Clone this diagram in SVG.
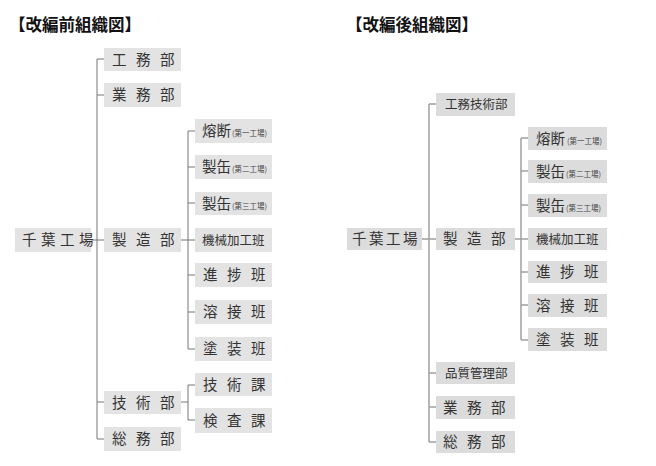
<svg xmlns="http://www.w3.org/2000/svg" width="656" height="466" viewBox="0 0 656 466">
<style>
.bg{fill:#ffffff}
.title{font-family:"Noto Sans CJK JP","Noto Sans",sans-serif;font-size:16.5px;font-weight:bold;fill:#111}
.bl{fill:#e3e3e3}
.br{fill:#dcdcdc}
.t{font-family:"Noto Sans CJK JP","Noto Sans",sans-serif;font-size:14.5px;fill:#333}
.s3{letter-spacing:9.5px}
.s4{letter-spacing:4.5px}
.r4{letter-spacing:2.5px}
.t5{font-family:"Noto Sans CJK JP","Noto Sans",sans-serif;font-size:12.5px;fill:#333}
.sm{font-family:"Noto Sans CJK JP","Noto Sans",sans-serif;font-size:7.5px;fill:#444}
.ll{stroke:#777;stroke-width:1;fill:none}
.lr{stroke:#a0a0a0;stroke-width:1.5;fill:none}
</style>
<rect class="bg" width="656" height="466"/>
<text class="title" x="9" y="31">【改編前組織図】</text>
<text class="title" x="346" y="31">【改編後組織図】</text>

<g id="connectors">
  <path class="ll" d="M91 240H97M97 59V439M97 59H104M97 95H104M97 240H104M97 402H104M97 439H104"/>
  <path class="ll" d="M181 240H188M188 131V349M188 131H195M188 167H195M188 203H195M188 240H195M188 275H195M188 312H195M188 349H195"/>
  <path class="ll" d="M181 402H188M188 385V420M188 385H195M188 420H195"/>
  <path class="lr" d="M422 239H429M429 104V442M429 104H436M429 239H436M429 373H436M429 407H436M429 442H436"/>
  <path class="lr" d="M515 239H521M521 138V340M521 138H528M521 171H528M521 205H528M521 239H528M521 272H528M521 305H528M521 340H528"/>
</g>

<!-- left -->
<g id="L_chiba"><rect class="bl" x="15" y="228" width="76" height="24"/><text class="t s4" x="22" y="245">千葉工場</text></g>
<g id="L_koumu"><rect class="bl" x="104" y="48" width="77" height="23"/><text class="t s3" x="112" y="64.5">工務部</text></g>
<g id="L_gyoumu"><rect class="bl" x="104" y="83" width="77" height="24"/><text class="t s3" x="112" y="100">業務部</text></g>
<g id="L_seizou"><rect class="bl" x="104" y="228" width="77" height="24"/><text class="t s3" x="112" y="245">製造部</text></g>
<g id="L_gijutsu"><rect class="bl" x="104" y="391" width="77" height="23"/><text class="t s3" x="112" y="407.5">技術部</text></g>
<g id="L_soumu"><rect class="bl" x="104" y="427" width="77" height="24"/><text class="t s3" x="112" y="444">総務部</text></g>
<g id="L_youdan"><rect class="bl" x="195" y="119" width="77" height="24"/><text class="t" x="202" y="136">熔断<tspan class="sm" dx="1">(第一工場)</tspan></text></g>
<g id="L_seikan2"><rect class="bl" x="195" y="155" width="77" height="24"/><text class="t" x="202" y="172">製缶<tspan class="sm" dx="1">(第二工場)</tspan></text></g>
<g id="L_seikan3"><rect class="bl" x="195" y="192" width="77" height="23"/><text class="t" x="202" y="208.5">製缶<tspan class="sm" dx="1">(第三工場)</tspan></text></g>
<g id="L_kikai"><rect class="bl" x="195" y="228" width="77" height="24"/><text class="t5" x="202" y="245">機械加工班</text></g>
<g id="L_shinchoku"><rect class="bl" x="195" y="263" width="77" height="24"/><text class="t s3" x="203" y="280">進捗班</text></g>
<g id="L_yousetsu"><rect class="bl" x="195" y="300" width="77" height="24"/><text class="t s3" x="203" y="317">溶接班</text></g>
<g id="L_tosou"><rect class="bl" x="195" y="337" width="77" height="24"/><text class="t s3" x="203" y="354">塗装班</text></g>
<g id="L_gijutsuka"><rect class="bl" x="195" y="373" width="77" height="23"/><text class="t s3" x="203" y="389.5">技術課</text></g>
<g id="L_kensa"><rect class="bl" x="195" y="408" width="77" height="25"/><text class="t s3" x="203" y="425.5">検査課</text></g>

<!-- right -->
<g id="R_chiba"><rect class="br" x="347" y="228" width="75" height="22"/><text class="t r4" x="352" y="244">千葉工場</text></g>
<g id="R_koumugijutsu"><rect class="br" x="436" y="93" width="79" height="23"/><text class="t5" x="445" y="109">工務技術部</text></g>
<g id="R_seizou"><rect class="br" x="436" y="228" width="79" height="22"/><text class="t s3" x="443" y="244">製造部</text></g>
<g id="R_hinshitsu"><rect class="br" x="436" y="362" width="79" height="22"/><text class="t5" x="445" y="378">品質管理部</text></g>
<g id="R_gyoumu"><rect class="br" x="436" y="396" width="79" height="23"/><text class="t s3" x="443" y="412.5">業務部</text></g>
<g id="R_soumu"><rect class="br" x="436" y="431" width="79" height="22"/><text class="t s3" x="443" y="447">総務部</text></g>
<g id="R_youdan"><rect class="br" x="528" y="127" width="79" height="23"/><text class="t" x="536" y="143.5">熔断<tspan class="sm" dx="2">(第一工場)</tspan></text></g>
<g id="R_seikan2"><rect class="br" x="528" y="160" width="79" height="23"/><text class="t" x="536" y="176.5">製缶<tspan class="sm" dx="1">(第二工場)</tspan></text></g>
<g id="R_seikan3"><rect class="br" x="528" y="194" width="79" height="23"/><text class="t" x="536" y="210.5">製缶<tspan class="sm" dx="1">(第三工場)</tspan></text></g>
<g id="R_kikai"><rect class="br" x="528" y="228" width="79" height="22"/><text class="t5" x="536" y="244">機械加工班</text></g>
<g id="R_shinchoku"><rect class="br" x="528" y="261" width="79" height="22"/><text class="t s3" x="536" y="277">進捗班</text></g>
<g id="R_yousetsu"><rect class="br" x="528" y="294" width="79" height="23"/><text class="t s3" x="536" y="310.5">溶接班</text></g>
<g id="R_tosou"><rect class="br" x="528" y="328" width="79" height="23"/><text class="t s3" x="536" y="344.5">塗装班</text></g>
</svg>
